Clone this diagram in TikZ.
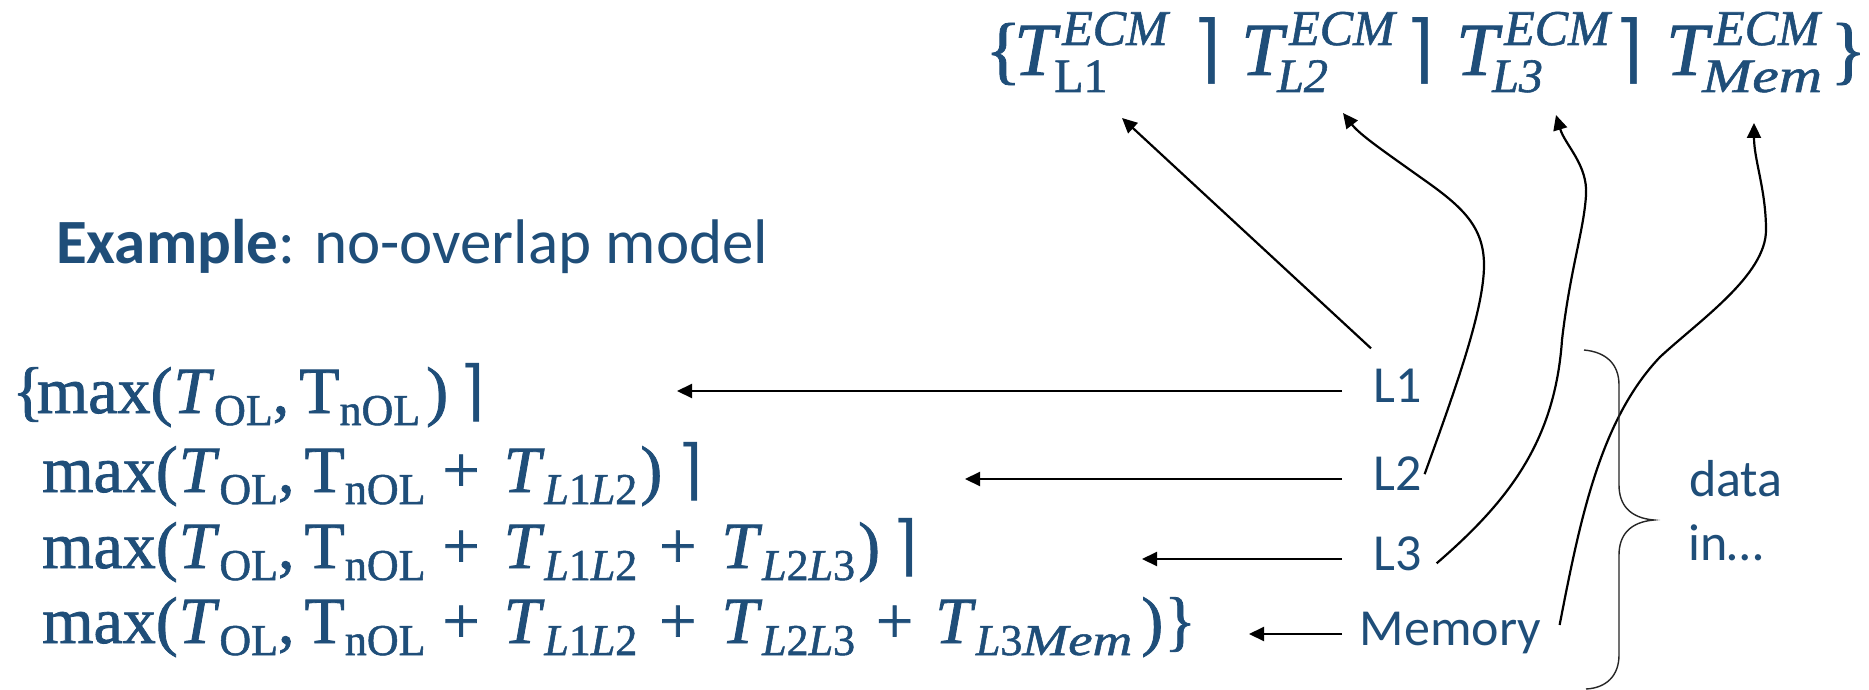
\documentclass[tikz,border=0pt]{standalone}
\usepackage{fontspec}
\setmainfont{Carlito}
\newfontfamily\fser{Liberation Serif}[FakeBold=1.2]
\newfontfamily\fwide{Liberation Serif}[FakeStretch=1.25,FakeBold=1.2]
\newfontfamily\dv{DejaVu Sans}
\usetikzlibrary{arrows.meta,calc}
\definecolor{ink}{RGB}{31,78,121}
\newcommand\sbx[1]{\lower12pt\hbox{\fser\fontsize{44}{44}\selectfont #1}}
\newcommand\rc{{\dv ⌉}}
\newcommand\topT[2]{\rlap{\textit{T}}\kern#1pt\rlap{\lower17pt\hbox{\fontsize{48}{48}\selectfont #2}}\kern\dimexpr48pt-#1pt\relax\raise30pt\hbox{\fontsize{50}{50}\selectfont\itshape ECM}}
\newcommand\pre{max(\kern1pt\textit{T}\sbx{OL},\kern10pt T\sbx{nOL}}
\newcommand\plusA{\kern17pt+\kern24pt\textit{T}\sbx{\textit{L}1\textit{L}2}}
\begin{document}
\begin{tikzpicture}[x=1pt,y=-1pt,
  arr/.style={draw=black, line width=2.2pt, -{Triangle[length=15pt,width=14pt]}},
  lab/.style={font=\fontsize{52}{52}\selectfont, text=ink, inner sep=0pt, anchor=base west},
  tf/.style={font=\fser\fontsize{75}{75}\selectfont, text=ink, inner sep=0pt, anchor=base west},
  lf/.style={font=\fser\fontsize{66}{66}\selectfont, text=ink, inner sep=0pt, anchor=base west},
  sepl/.style={font=\fontsize{66}{66}\selectfont, text=ink, inner sep=0pt, anchor=base},
  sept/.style={font=\fontsize{75}{75}\selectfont, text=ink, inner sep=0pt, anchor=base},
  bracestyle/.style={draw=black!85, line width=1.4pt}]
\fill[white] (0,0) rectangle (1869,690);
\useasboundingbox (0,0) rectangle (1869,690);

% top formula
\node[tf] (lb) at (985,75) {\{};
\node[tf] (t1) at (1014,75) {\topT{40}{L1}};
\node[sept] (s1) at (1207,75) {\rc};
\node[tf] (t2) at (1241,75) {\topT{36}{\itshape L2}};
\node[sept] (s2) at (1420,75) {\rc};
\node[tf] (t3) at (1456,75) {\topT{36}{\itshape L3}};
\node[sept] (s3) at (1629,75) {\rc};
\node[tf] (t4) at (1666,75) {\topT{36}{\fwide\itshape Mem}};
\node[tf] (rb) at (1830,75) {\}};

% example
\node[font=\fontsize{63}{63}\selectfont, text=ink, inner sep=0pt, anchor=base west] (ex) at (56,263) {\textbf{Example}: no-overlap model};

% left formulas
\node[lf] (f1) at (12,413) {\{\kern-7pt\pre\kern6pt)};
\node[sepl] (c1) at (472,413) {\rc};
\node[lf] (f2) at (42,492) {\pre\plusA\kern3pt)};
\node[sepl] (c2) at (690,492) {\rc};
\node[lf] (f3) at (42,568) {\pre\plusA\kern22pt+\kern25pt\textit{T}\sbx{\textit{L}2\textit{L}3}\kern3pt)};
\node[sepl] (c3) at (905,568) {\rc};
\node[lf] (f4) at (42,643) {\pre\plusA\kern22pt+\kern25pt\textit{T}\sbx{\textit{L}2\textit{L}3}\kern21pt+\kern22pt\textit{T}\sbx{\textit{L}3{\fwide\itshape Mem}}\kern9pt)\kern1pt\}};

% labels
\node[lab] (l1) at (1373,402) {L1};
\node[lab] (l2) at (1373,490) {L2};
\node[lab] (l3) at (1373,570) {L3};
\node[lab] (mem) at (1359.5,645) {Memory};
\node[lab] (d1) at (1689,496) {data};
\node[lab] (d2) at (1688,560) {in…};

% arrow ends
\coordinate (e1) at (677,391);
\coordinate (e2) at (965,479);
\coordinate (e3) at (1142,559);
\coordinate (e4) at (1249,634);
\coordinate (tip1) at (1122,118);
\coordinate (tip2) at (1343,113);
\coordinate (tip3) at (1556,115);
\coordinate (tip4) at (1754,123);

\draw[arr] ($(e1 -| l1.west)+(-31,0)$) -- (e1);
\draw[arr] ($(e2 -| l2.west)+(-31,0)$) -- (e2);
\draw[arr] ($(e3 -| l3.west)+(-31,0)$) -- (e3);
\draw[arr] ($(e4 -| mem.west)+(-17.5,0)$) -- (e4);

\draw[arr] ($(l1.north west)+(-2,-20)$) -- (tip1);
\draw[arr] ($(l2.east)+(3,1)$) .. controls (1455,390) and (1484,310) .. (1484,265)
  .. controls (1484,225) and (1460,205) .. (1420,177)
  .. controls (1385,152) and (1360,135) .. (tip2);
\draw[arr] ($(l3.east)+(15,10)$) .. controls (1510,500) and (1555,440) .. (1562,340)
  .. controls (1570,270) and (1584,230) .. (1586,195)
  .. controls (1588,165) and (1565,145) .. (tip3);
\draw[arr] ($(mem.east)+(18.5,-7.5)$) .. controls (1580,520) and (1600,420) .. (1660,357)
  .. controls (1700,320) and (1766,275) .. (1766,230)
  .. controls (1766,190) and (1754,160) .. (tip4);

% brace
\draw[bracestyle] (1584,350) .. controls (1606,352) and (1619,364) .. (1619,385) -- (1619,485)
  .. controls (1619,505) and (1630,518) .. (1654,520)
  .. controls (1630,522) and (1619,535) .. (1619,555) -- (1619,655)
  .. controls (1619,676) and (1606,688) .. (1586,689);
\end{tikzpicture}
\end{document}
